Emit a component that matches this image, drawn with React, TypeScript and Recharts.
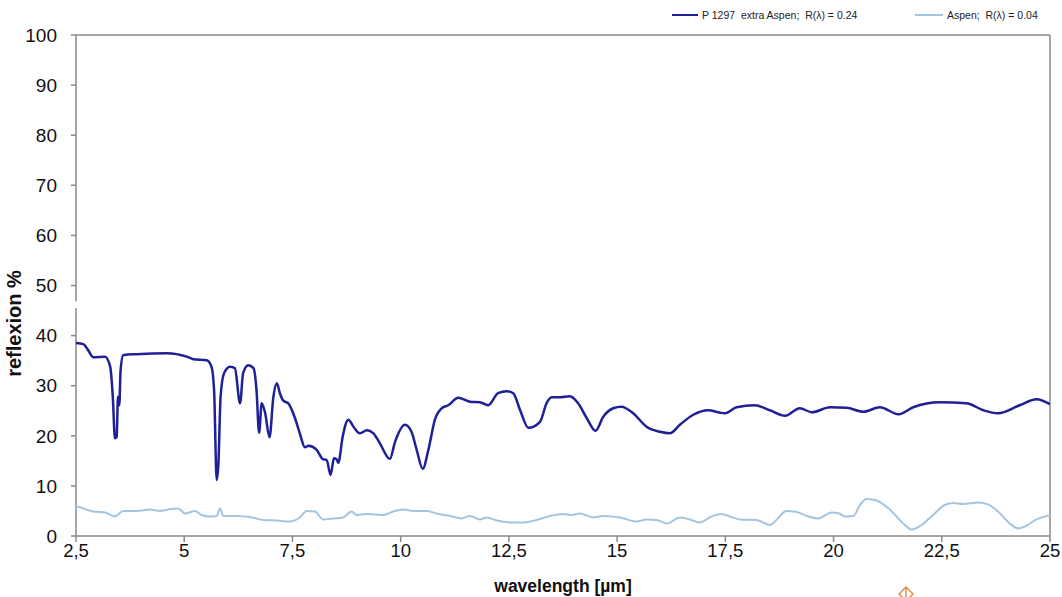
import React from "react";
import {
  LineChart,
  Line,
  XAxis,
  YAxis,
  ReferenceLine,
} from "recharts";

// wavelength (µm) and reflexion (%) of the sample "P 1297 extra Aspen"
const sampleWavelength = [
  2.5, 2.67, 2.78, 2.9, 3.17, 3.29, 3.35, 3.4, 3.44, 3.47, 3.5, 3.53, 3.59, 3.9,
  4.6, 5.06, 5.21, 5.52, 5.63, 5.69, 5.75, 5.79, 5.84, 5.92, 6.06, 6.17, 6.29,
  6.36, 6.48, 6.6, 6.67, 6.73, 6.79, 6.87, 6.97, 7.06, 7.14, 7.21, 7.29, 7.4,
  7.56, 7.67, 7.79, 7.87, 8.06, 8.21, 8.29, 8.38, 8.46, 8.52, 8.56, 8.66, 8.79,
  8.91, 9.06, 9.22, 9.37, 9.52, 9.75, 9.87, 10.1, 10.25, 10.37, 10.51, 10.64,
  10.79, 10.95, 11.1, 11.33, 11.6, 11.83, 12.02, 12.25, 12.45, 12.6, 12.76,
  12.95, 13.22, 13.37, 13.49, 13.68, 13.91, 14.1, 14.3, 14.5, 14.68, 14.91,
  15.1, 15.37, 15.68, 15.99, 16.22, 16.45, 16.76, 17.11, 17.38, 17.49, 17.76,
  18.18, 18.53, 18.88, 19.22, 19.5, 19.92, 20.3, 20.69, 21.07, 21.5, 21.84,
  22.46, 23.07, 23.46, 23.8, 24.3, 24.69, 25,
];
const sampleReflexion = [
  38.5, 38.3, 37.1, 35.7, 35.8, 33.8, 27.8, 19.5, 19.8, 27.8, 26.1, 33.1, 36.1,
  36.3, 36.5, 35.8, 35.3, 35.1, 33.8, 29.1, 11.2, 14.5, 27.8, 32.5, 33.8, 33.5,
  26.5, 32.5, 34.1, 33.5, 29.1, 20.6, 26.5, 24.5, 19.7, 27.8, 30.5, 28.5, 27.0,
  26.5, 23.5, 20.5, 17.7, 18.0, 17.2, 15.3, 15.2, 12.2, 15.5, 15.3, 14.6, 19.8,
  23.2, 21.8, 20.5, 21.1, 20.5, 18.5, 15.4, 18.8, 22.2, 20.8, 17.2, 13.4, 17.2,
  23.2, 25.5, 26.1, 27.6, 26.8, 26.7, 26.1, 28.5, 28.9, 28.5, 25.1, 21.6, 22.8,
  26.5, 27.7, 27.7, 27.9, 26.5, 23.5, 21.0, 23.8, 25.5, 25.8, 24.5, 21.8, 20.8,
  20.5, 22.2, 24.2, 25.1, 24.6, 24.5, 25.7, 26.1, 25.1, 24.0, 25.5, 24.7, 25.7,
  25.6, 24.8, 25.7, 24.3, 25.7, 26.7, 26.5, 25.1, 24.5, 26.1, 27.3, 26.3,
];

// wavelength (µm) and reflexion (%) of the reference "Aspen"
const aspenWavelength = [
  2.5, 2.67, 2.9, 3.17, 3.4, 3.59, 3.9, 4.21, 4.44, 4.63, 4.86, 5.02, 5.25, 5.4,
  5.6, 5.75, 5.83, 5.9, 6.21, 6.56, 6.83, 7.14, 7.44, 7.67, 7.83, 8.02, 8.21,
  8.44, 8.67, 8.87, 8.98, 9.21, 9.6, 9.83, 10.06, 10.29, 10.6, 10.83, 11.14,
  11.41, 11.6, 11.83, 11.99, 12.22, 12.6, 12.83, 13.14, 13.45, 13.76, 13.95,
  14.14, 14.45, 14.68, 15.07, 15.45, 15.68, 15.91, 16.15, 16.45, 16.68, 16.91,
  17.18, 17.41, 17.6, 17.84, 18.22, 18.53, 18.68, 18.91, 19.1, 19.42, 19.64,
  19.96, 20.13, 20.26, 20.46, 20.61, 20.76, 20.96, 21.3, 21.61, 21.8, 22.0,
  22.3, 22.57, 22.76, 22.99, 23.34, 23.57, 23.8, 24.07, 24.27, 24.42, 24.69, 25,
];
const aspenReflexion = [
  6.0, 5.5, 4.9, 4.7, 3.9, 5.0, 5.0, 5.3, 5.0, 5.3, 5.5, 4.5, 5.0, 4.2, 3.9, 4.0,
  5.5, 4.0, 4.0, 3.7, 3.2, 3.1, 2.9, 3.7, 5.0, 4.9, 3.3, 3.5, 3.7, 4.9, 4.2, 4.4,
  4.2, 4.9, 5.3, 5.0, 5.0, 4.5, 4.0, 3.5, 4.0, 3.3, 3.7, 3.1, 2.7, 2.7, 3.2, 4.0,
  4.4, 4.2, 4.5, 3.7, 4.0, 3.7, 2.9, 3.3, 3.2, 2.5, 3.7, 3.3, 2.7, 3.9, 4.4, 3.9,
  3.3, 3.2, 2.2, 3.2, 5.0, 4.9, 3.9, 3.5, 4.7, 4.5, 3.9, 4.0, 6.2, 7.4, 7.2, 5.3,
  2.5, 1.3, 2.0, 4.2, 6.2, 6.6, 6.4, 6.7, 6.3, 4.9, 2.5, 1.5, 1.9, 3.3, 4.2,
];

const xTicks = [2.5, 5, 7.5, 10, 12.5, 15, 17.5, 20, 22.5, 25];
const yTicks = [0, 10, 20, 30, 40, 50, 60, 70, 80, 90, 100];

const sampleName = "P 1297  extra Aspen;  R(\u03bb) = 0.24";
const aspenName = "Aspen;  R(\u03bb) = 0.04";

const sampleData = sampleWavelength.map((x, i) => ({ x, y: sampleReflexion[i] }));
const aspenData = aspenWavelength.map((x, i) => ({ x, y: aspenReflexion[i] }));

const DARK = "#1f1f98";
const LIGHT = "#a3c5e2";
const AXIS = "#8a8a8a";
const FONT = "'Liberation Sans', Arial, sans-serif";

export default function App() {
  return (
    <div style={{ position: "absolute", left: 0, top: 0, width: 1062, height: 597, background: "#fff", overflow: "hidden" }}>
      <LineChart
        width={1062}
        height={597}
        margin={{ top: 35, right: 12, bottom: 0, left: 0 }}
        style={{ fontFamily: FONT }}
      >
        <XAxis
          type="number"
          dataKey="x"
          domain={[2.5, 25]}
          ticks={xTicks}
          allowDataOverflow
          height={61}
          stroke={AXIS}
          axisLine={{ stroke: AXIS, strokeWidth: 1.5 }}
          tickLine={{ stroke: AXIS, strokeWidth: 1.5 }}
          tickSize={6}
          tickMargin={2}
          tick={{ fill: "#111", fontSize: 18.5 }}
          tickFormatter={(v: number) => String(v).replace(".", ",")}
          label={{
            value: "wavelength [\u00b5m]",
            position: "insideBottom",
            offset: 5,
            style: { fill: "#111", fontSize: 17.5, fontWeight: "bold" },
          }}
        />
        <YAxis
          type="number"
          dataKey="y"
          domain={[0, 100]}
          ticks={yTicks}
          width={76}
          axisLine={false}
          tickLine={{ stroke: AXIS, strokeWidth: 1.5 }}
          tickSize={5}
          tickMargin={14}
          tick={{ fill: "#111", fontSize: 19 }}
          label={{
            value: "reflexion %",
            angle: -90,
            position: "insideLeft",
            offset: 14,
            dy: 38,
            style: { fill: "#111", fontSize: 20, fontWeight: "bold", textAnchor: "middle" },
          }}
        />
        <ReferenceLine segment={[{ x: 2.5, y: 0 }, { x: 2.5, y: 45.5 }]} stroke={AXIS} strokeWidth={1.5} ifOverflow="visible" />
        <ReferenceLine segment={[{ x: 2.5, y: 46.8 }, { x: 2.5, y: 100 }]} stroke={AXIS} strokeWidth={1.5} ifOverflow="visible" />
        <ReferenceLine y={100} stroke={AXIS} strokeWidth={1.5} />
        <ReferenceLine x={25} stroke={AXIS} strokeWidth={1.5} />
        <Line
          data={aspenData}
          dataKey="y"
          name={aspenName}
          type="monotone"
          stroke={LIGHT}
          strokeWidth={2}
          dot={false}
          isAnimationActive={false}
        />
        <Line
          data={sampleData}
          dataKey="y"
          name={sampleName}
          type="monotone"
          stroke={DARK}
          strokeWidth={2.5}
          dot={false}
          isAnimationActive={false}
        />
      </LineChart>
      <div style={{ position: "absolute", left: 0, top: 0, width: 1062, height: 30, fontFamily: FONT, fontSize: 10.5, color: "#222" }}>
        <div style={{ position: "absolute", left: 672, top: 9, display: "flex", alignItems: "center", whiteSpace: "pre" }}>
          <div style={{ width: 26, height: 2.5, background: DARK, marginRight: 4 }} />
          <span>{sampleName}</span>
        </div>
        <div style={{ position: "absolute", left: 915, top: 9, display: "flex", alignItems: "center", whiteSpace: "pre" }}>
          <div style={{ width: 28, height: 2, background: LIGHT, marginRight: 4 }} />
          <span>{aspenName}</span>
        </div>
      </div>
      <svg style={{ position: "absolute", left: 896, top: 586 }} width={20} height={11}>
        <path d="M10 1 L17 8 L10 15 L3 8 Z M10 1 L10 15" fill="none" stroke="#e0904a" strokeWidth={1.5} />
      </svg>
    </div>
  );
}
